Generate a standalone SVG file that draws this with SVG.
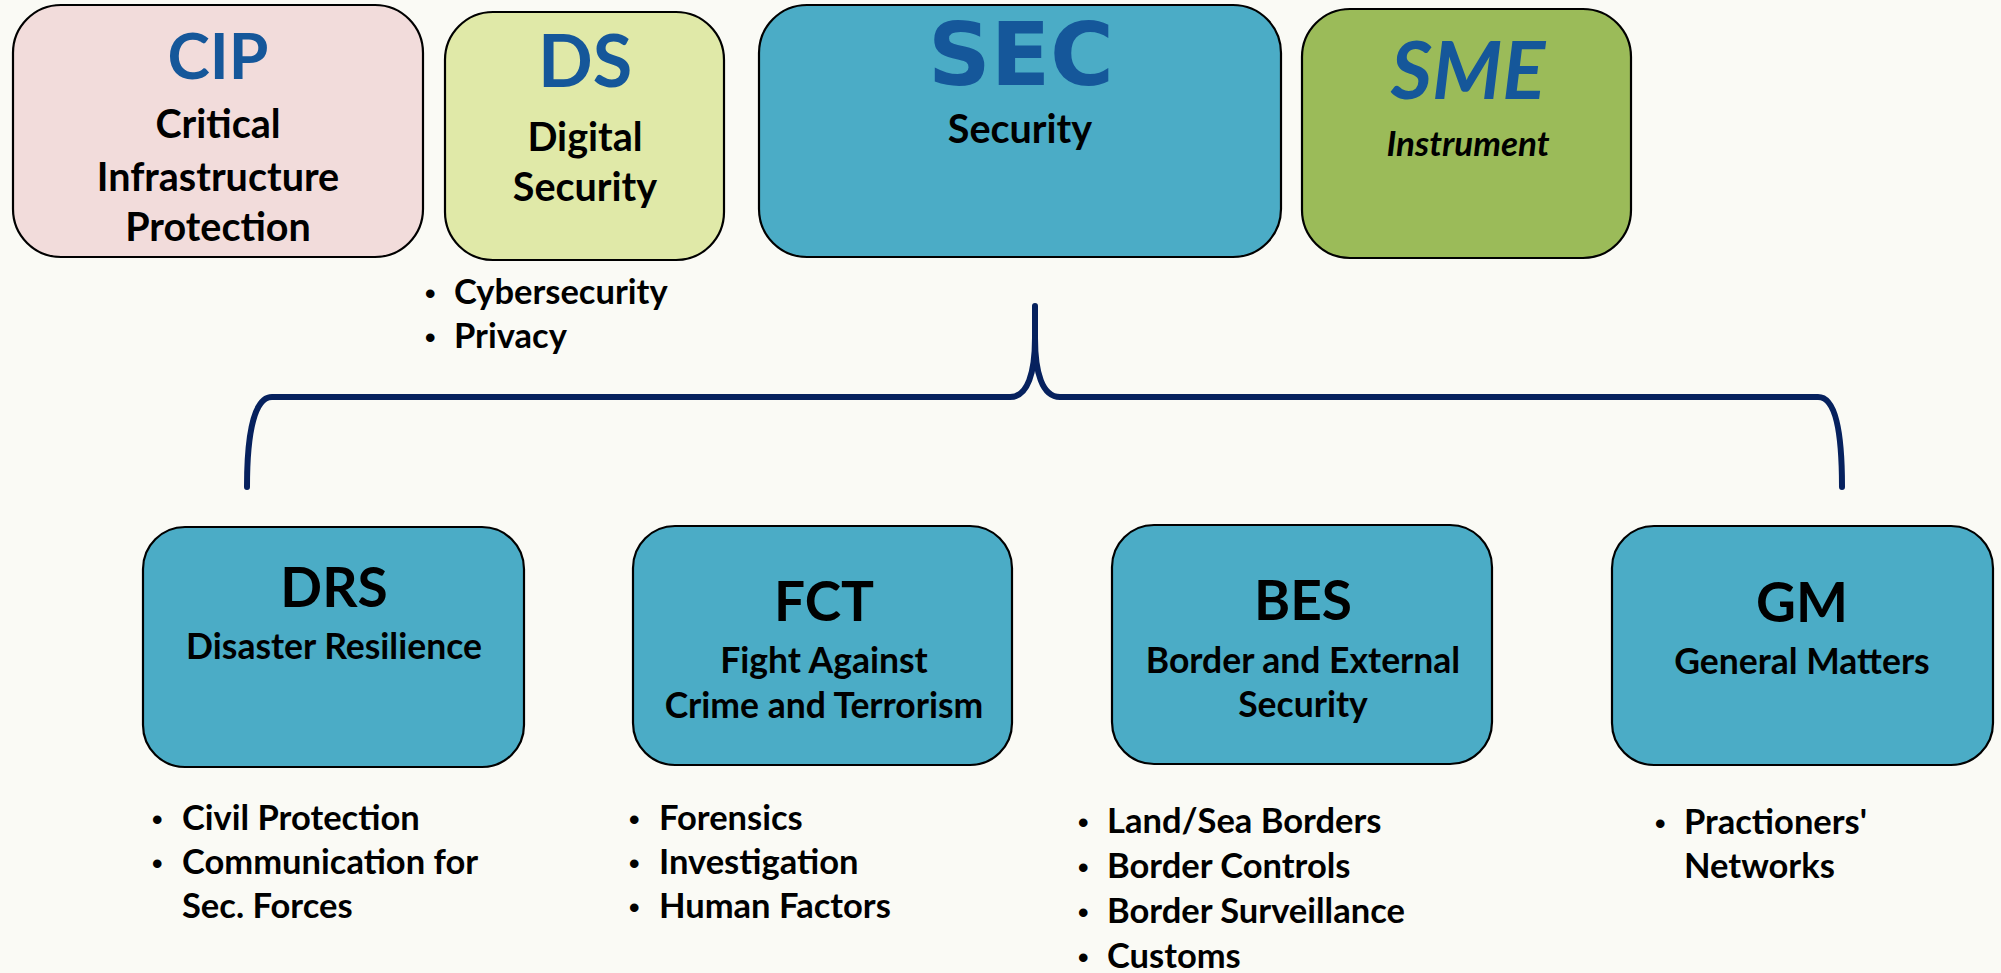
<svg xmlns="http://www.w3.org/2000/svg" width="2001" height="973" viewBox="0 0 2001 973">
<style>
.box{stroke:#000;stroke-width:2.2}
.t{font-family:Lato,"Open Sans","Liberation Sans",sans-serif;font-weight:700;fill:#000;text-anchor:middle}
.h{font-family:Lato,"Open Sans","Liberation Sans",sans-serif;font-weight:700;fill:#15579a;text-anchor:middle}
.b{font-family:Lato,"Open Sans","Liberation Sans",sans-serif;font-weight:700;fill:#000;font-size:34.5px}
.d{font-family:"Liberation Sans",Arial,sans-serif;font-weight:700;fill:#000;font-size:30px}
.sub{font-size:39.5px}
.sm{font-size:35.5px}
.big{font-size:55px}
.brace{fill:none;stroke:#06215e;stroke-width:6;stroke-linecap:round;stroke-linejoin:round}
</style>
<rect x="0" y="0" width="2001" height="973" fill="#fafaf5"/>

<g id="connectors">
<path class="brace" d="M1035 306 L1035 338 C1035 372 1028 397 1010 397 L272 397 C255 397 247 430 247 487"/>
<path class="brace" d="M1035 338 C1035 372 1042 397 1060 397 L1818 397 C1835 397 1842 430 1842 487"/>
</g>

<g id="node-CIP">
<rect class="box" x="13" y="5" width="410" height="252" rx="48" ry="48" fill="#f2dcdb"/>
<text class="h" x="218" y="79" font-size="64">CIP</text>
<text class="t sub" x="218" y="138">Critical</text>
<text class="t sub" x="218" y="191">Infrastructure</text>
<text class="t sub" x="218" y="241">Protection</text>
</g>

<g id="node-DS">
<rect class="box" x="445" y="12" width="279" height="248" rx="48" ry="48" fill="#e0e9a8"/>
<text class="h" x="585" y="87" font-size="72">DS</text>
<text class="t sub" x="585" y="151">Digital</text>
<text class="t sub" x="585" y="201">Security</text>
</g>

<g id="list-DS">
<text class="d" x="425" y="304">•</text><text class="b" x="454" y="304">Cybersecurity</text>
<text class="d" x="425" y="348">•</text><text class="b" x="454" y="348">Privacy</text>
</g>

<g id="node-SEC">
<rect class="box" x="759" y="5" width="522" height="252" rx="48" ry="48" fill="#4bacc6"/>
<text x="1021" y="85" font-family="'DejaVu Sans',Verdana,sans-serif" font-weight="700" font-size="87" fill="#15579a" text-anchor="middle">SEC</text>
<text class="t sub" x="1020" y="143">Security</text>
</g>

<g id="node-SME">
<rect class="box" x="1302" y="9" width="329" height="249" rx="48" ry="48" fill="#9bbb59"/>
<text class="h" x="1468" y="99" font-size="80" font-style="italic">SME</text>
<text class="t" x="1468" y="156" font-size="35" font-style="italic">Instrument</text>
</g>

<g id="node-DRS">
<rect class="box" x="143" y="527" width="381" height="240" rx="42" ry="42" fill="#4bacc6"/>
<text class="t big" x="334" y="607">DRS</text>
<text class="t sm" x="334" y="659">Disaster Resilience</text>
</g>
<g id="list-DRS">
<text class="d" x="152" y="830">•</text><text class="b" x="182" y="830">Civil Protection</text>
<text class="d" x="152" y="874">•</text><text class="b" x="182" y="874">Communication for</text>
<text class="b" x="182" y="918">Sec. Forces</text>
</g>

<g id="node-FCT">
<rect class="box" x="633" y="526" width="379" height="239" rx="42" ry="42" fill="#4bacc6"/>
<text class="t big" x="824" y="621" font-size="53">FCT</text>
<text class="t sm" x="824" y="673">Fight Against</text>
<text class="t sm" x="824" y="718">Crime and Terrorism</text>
</g>
<g id="list-FCT">
<text class="d" x="629" y="830">•</text><text class="b" x="659" y="830">Forensics</text>
<text class="d" x="629" y="874">•</text><text class="b" x="659" y="874">Investigation</text>
<text class="d" x="629" y="918">•</text><text class="b" x="659" y="918">Human Factors</text>
</g>

<g id="node-BES">
<rect class="box" x="1112" y="525" width="380" height="239" rx="42" ry="42" fill="#4bacc6"/>
<text class="t big" x="1303" y="620">BES</text>
<text class="t sm" x="1303" y="673">Border and External</text>
<text class="t sm" x="1303" y="717">Security</text>
</g>
<g id="list-BES">
<text class="d" x="1078" y="833">•</text><text class="b" x="1107" y="833">Land/Sea Borders</text>
<text class="d" x="1078" y="878">•</text><text class="b" x="1107" y="878">Border Controls</text>
<text class="d" x="1078" y="923">•</text><text class="b" x="1107" y="923">Border Surveillance</text>
<text class="d" x="1078" y="968">•</text><text class="b" x="1107" y="968">Customs</text>
</g>

<g id="node-GM">
<rect class="box" x="1612" y="526" width="381" height="239" rx="42" ry="42" fill="#4bacc6"/>
<text class="t big" x="1802" y="622" font-size="57">GM</text>
<text class="t sm" x="1802" y="674">General Matters</text>
</g>
<g id="list-GM">
<text class="d" x="1655" y="834">•</text><text class="b" x="1684" y="834">Practioners'</text>
<text class="b" x="1684" y="878">Networks</text>
</g>
</svg>
